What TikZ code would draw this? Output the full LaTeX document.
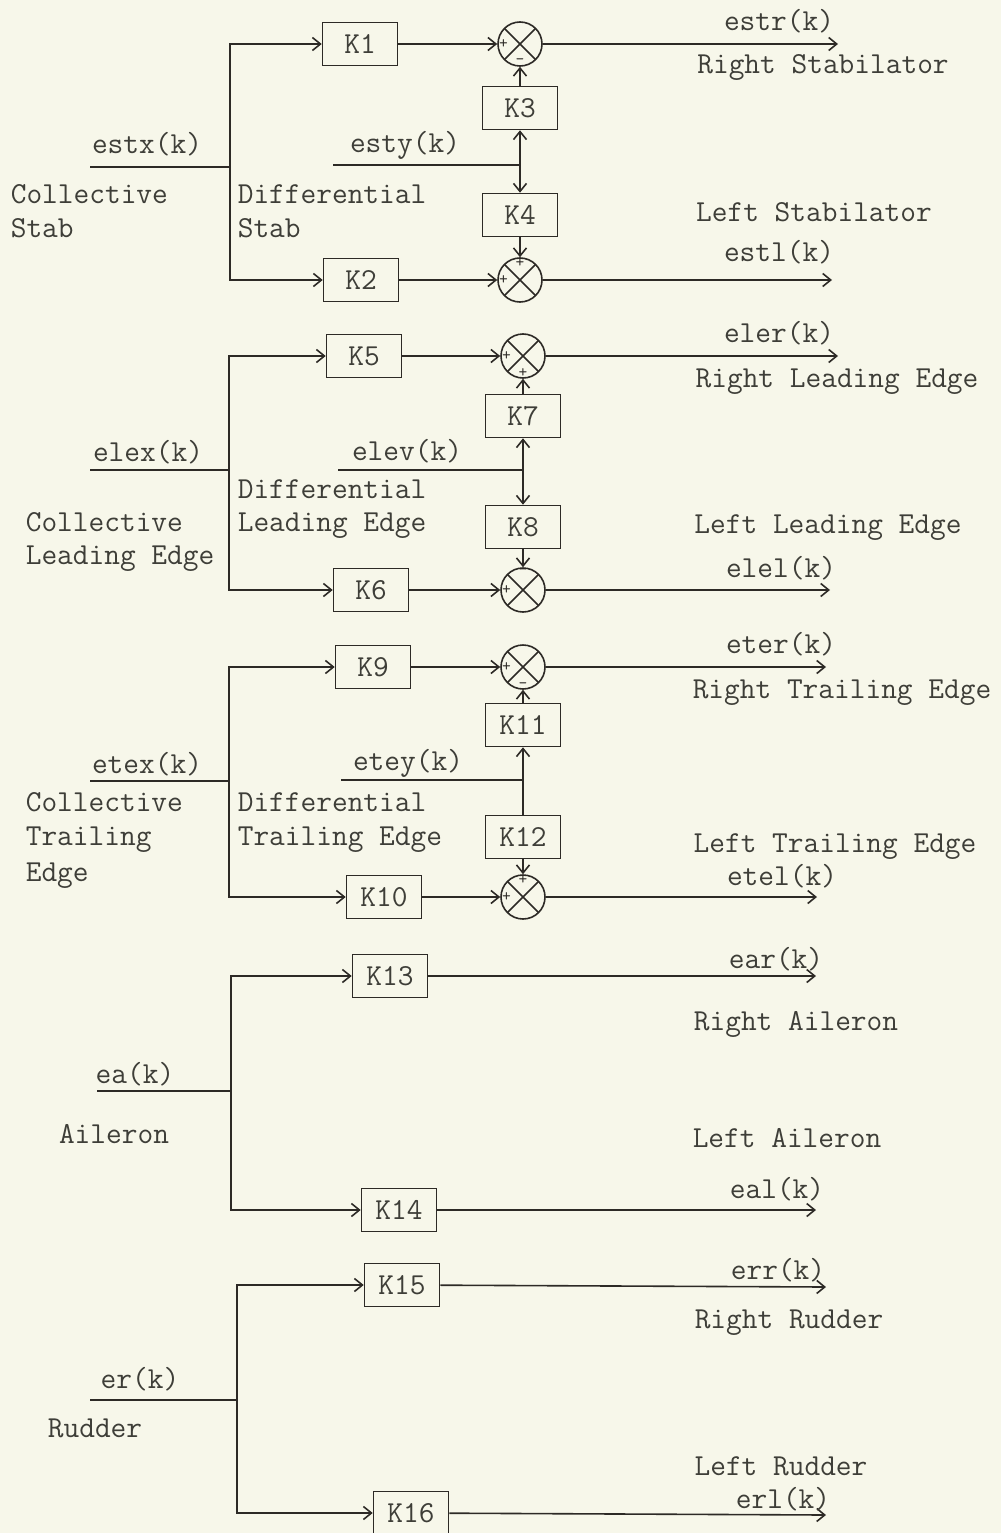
\documentclass[tikz,border=0pt]{standalone}
\usetikzlibrary{arrows.meta}
\definecolor{paper}{RGB}{247,247,234}
\definecolor{ink}{RGB}{45,42,38}
\definecolor{typed}{RGB}{62,62,56}
\newcommand{\typefont}{\ttfamily\fontsize{30.5}{36}\selectfont}
\newcommand{\signfont}{\ttfamily\fontsize{17}{17}\selectfont}

\begin{document}
\begin{tikzpicture}[x=1pt, y=-1pt, line width=1.6pt, color=ink,
    >={Straight Barb[length=8pt,width=13pt]},
    gain/.style={draw, rectangle, minimum width=75pt, minimum height=43pt,
        inner sep=0pt, font=\typefont, text=typed},
    summer/.style={draw, circle, minimum size=44pt, inner sep=0pt,
        path picture={\draw (path picture bounding box.north west) -- (path picture bounding box.south east)
            (path picture bounding box.north east) -- (path picture bounding box.south west);}},
    lbl/.style={font=\typefont, text=typed, inner sep=0pt, anchor=base},
    lbw/.style={lbl, anchor=base west},
    sgn/.style={font=\signfont, text=ink, inner sep=1pt}]

    \fill[paper] (0,0) rectangle (1001,1533);
    \useasboundingbox (0,0) rectangle (1001,1533);

    % stabilator
    \node[gain] (K1) at (360,44) {K1};
    \node[gain] (K2) at (361,280) {K2};
    \node[summer] (S1) at (520,44) {};
    \node[summer] (S2) at (520,280) {};
    \node[gain] (K3) at (520,108) {K3};
    \node[gain] (K4) at (520,215) {K4};
    \coordinate (estx) at (90,167);
    \coordinate (jA) at (230,167);
    \coordinate (esty) at (333,165);
    \coordinate (jB) at (520,165);
    \coordinate (estr) at (838,44);
    \coordinate (estl) at (832,280);
    \draw (estx) -- (jA);
    \draw[->] (jA) |- (K1);
    \draw[->] (jA) |- (K2);
    \draw[->] (K1) -- (S1);
    \draw[->] (K2) -- (S2);
    \draw (esty) -- (jB);
    \draw[->] (jB) -- (K3);
    \draw[->] (jB) -- (K4);
    \draw[->] (K3) -- (S1);
    \draw[->] (K4) -- (S2);
    \draw[->] (S1) -- (estr);
    \draw[->] (S2) -- (estl);
    \node[sgn, right=0pt] (p1) at (S1.west) {+};
    \node[sgn, above=0pt] (m1) at (S1.south) {-};
    \node[sgn, right=0pt] (p2) at (S2.west) {+};
    \node[sgn, below=0pt] (p3) at (S2.north) {+};
    \node[lbl] (lestx) at (147,154) {estx(k)};
    \node[lbl] (lesty) at (405,153) {esty(k)};
    \node[lbl] (lestr) at (779,31) {estr(k)};
    \node[lbl] (lrst) at (823,74) {Right Stabilator};
    \node[lbl] (llst) at (814,222) {Left Stabilator};
    \node[lbl] (lestl) at (779,261) {estl(k)};
    \node[lbw] (lcs1) at (10,204) {Collective};
    \node[lbw] (lcs2) at (10,237) {Stab};
    \node[lbw] (lds1) at (237,204) {Differential};
    \node[lbw] (lds2) at (237,237) {Stab};

    % leading edge
    \node[gain] (K5) at (364,356) {K5};
    \node[gain] (K6) at (371,590) {K6};
    \node[summer] (S3) at (523,356) {};
    \node[summer] (S4) at (523,590) {};
    \node[gain] (K7) at (523,416) {K7};
    \node[gain] (K8) at (523,527) {K8};
    \coordinate (elex) at (90,470);
    \coordinate (jC) at (229,470);
    \coordinate (elev) at (338,470);
    \coordinate (jD) at (523,470);
    \coordinate (eler) at (838,356);
    \coordinate (elel) at (830,590);
    \draw (elex) -- (jC);
    \draw[->] (jC) |- (K5);
    \draw[->] (jC) |- (K6);
    \draw[->] (K5) -- (S3);
    \draw[->] (K6) -- (S4);
    \draw (elev) -- (jD);
    \draw[->] (jD) -- (K7);
    \draw[->] (jD) -- (K8);
    \draw[->] (K7) -- (S3);
    \draw[->] (K8) -- (S4);
    \draw[->] (S3) -- (eler);
    \draw[->] (S4) -- (elel);
    \node[sgn, right=0pt] (p4) at (S3.west) {+};
    \node[sgn, above=0pt] (p5) at (S3.south) {+};
    \node[sgn, right=0pt] (p6) at (S4.west) {+};
    \node[sgn, below=0pt] (m2) at (S4.north) {-};
    \node[lbl] (lelex) at (148,461) {elex(k)};
    \node[lbl] (lelev) at (407,460) {elev(k)};
    \node[lbl] (leler) at (779,342) {eler(k)};
    \node[lbl] (lrle) at (837,387) {Right Leading Edge};
    \node[lbl] (llle) at (828,533) {Left Leading Edge};
    \node[lbl] (lelel) at (781,577) {elel(k)};
    \node[lbw] (lcl1) at (25,531) {Collective};
    \node[lbw] (lcl2) at (25,564) {Leading Edge};
    \node[lbw] (ldl1) at (237,498) {Differential};
    \node[lbw] (ldl2) at (237,531) {Leading Edge};

    % trailing edge
    \node[gain] (K9) at (373,667) {K9};
    \node[gain] (K10) at (384,897) {K10};
    \node[summer] (S5) at (523,667) {};
    \node[summer] (S6) at (523,897) {};
    \node[gain] (K11) at (523,725) {K11};
    \node[gain] (K12) at (523,837) {K12};
    \coordinate (etex) at (90,781);
    \coordinate (jE) at (229,781);
    \coordinate (etey) at (341,780);
    \coordinate (jF) at (523,780);
    \coordinate (eter) at (826,667);
    \coordinate (etel) at (817,897);
    \draw (etex) -- (jE);
    \draw[->] (jE) |- (K9);
    \draw[->] (jE) |- (K10);
    \draw[->] (K9) -- (S5);
    \draw[->] (K10) -- (S6);
    \draw (etey) -- (jF);
    \draw[->] (jF) -- (K11);
    \draw (jF) -- (K12);
    \draw[->] (K11) -- (S5);
    \draw[->] (K12) -- (S6);
    \draw[->] (S5) -- (eter);
    \draw[->] (S6) -- (etel);
    \node[sgn, right=0pt] (p7) at (S5.west) {+};
    \node[sgn, above=0pt] (m3) at (S5.south) {-};
    \node[sgn, right=0pt] (p8) at (S6.west) {+};
    \node[sgn, below=0pt] (p9) at (S6.north) {+};
    \node[lbl] (letex) at (147,773) {etex(k)};
    \node[lbl] (letey) at (408,770) {etey(k)};
    \node[lbl] (leter) at (781,653) {eter(k)};
    \node[lbl] (lrte) at (842,698) {Right Trailing Edge};
    \node[lbl] (llte) at (835,852) {Left Trailing Edge};
    \node[lbl] (letel) at (782,885) {etel(k)};
    \node[lbw] (lct1) at (25,811) {Collective};
    \node[lbw] (lct2) at (25,845) {Trailing};
    \node[lbw] (lct3) at (25,881) {Edge};
    \node[lbw] (ldt1) at (237,811) {Differential};
    \node[lbw] (ldt2) at (237,845) {Trailing Edge};

    % aileron
    \node[gain] (K13) at (390,976) {K13};
    \node[gain] (K14) at (399,1210) {K14};
    \coordinate (ea) at (97,1091);
    \coordinate (jG) at (231,1091);
    \coordinate (ear) at (816,976);
    \coordinate (eal) at (816,1210);
    \draw (ea) -- (jG);
    \draw[->] (jG) |- (K13);
    \draw[->] (jG) |- (K14);
    \draw[->] (K13) -- (ear);
    \draw[->] (K14) -- (eal);
    \node[lbl] (lea) at (135,1083) {ea(k)};
    \node[lbl] (lail) at (114,1143) {Aileron};
    \node[lbl] (lear) at (776,968) {ear(k)};
    \node[lbl] (lra) at (796,1030) {Right Aileron};
    \node[lbl] (lla) at (787,1147) {Left Aileron};
    \node[lbl] (leal) at (777,1198) {eal(k)};

    % rudder
    \node[gain] (K15) at (402,1285) {K15};
    \node[gain] (K16) at (411,1513) {K16};
    \coordinate (er) at (90,1400);
    \coordinate (jH) at (237,1400);
    \coordinate (err) at (826,1287);
    \coordinate (erl) at (826,1515);
    \draw (er) -- (jH);
    \draw[->] (jH) |- (K15);
    \draw[->] (jH) |- (K16);
    \draw[->] (K15) -- (err);
    \draw[->] (K16) -- (erl);
    \node[lbl] (ler) at (140,1388) {er(k)};
    \node[lbl] (lrud) at (95,1437) {Rudder};
    \node[lbl] (lerr) at (778,1279) {err(k)};
    \node[lbl] (lrr) at (789,1328) {Right Rudder};
    \node[lbl] (llr) at (781,1475) {Left Rudder};
    \node[lbl] (lerl) at (783,1508) {erl(k)};
\end{tikzpicture}
\end{document}
